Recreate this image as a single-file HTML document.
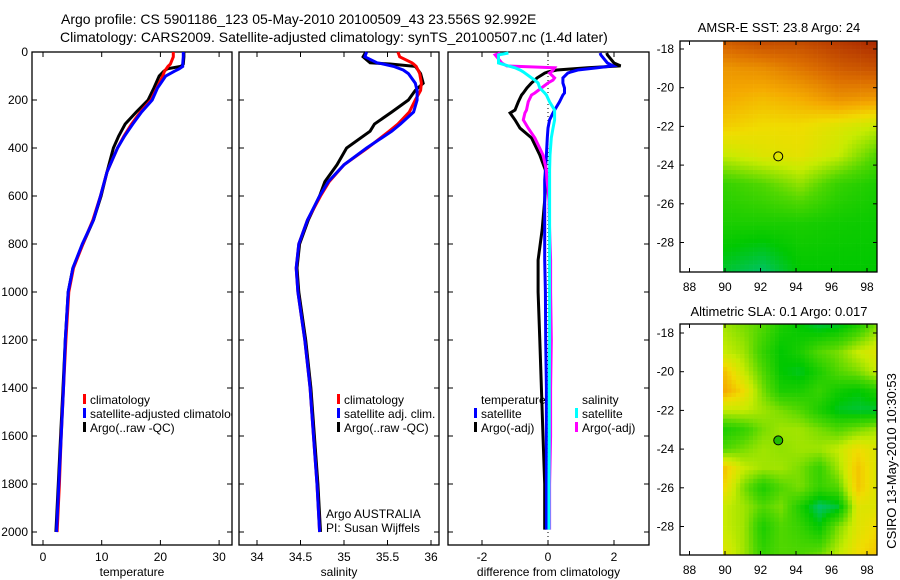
<!DOCTYPE html>
<html><head><meta charset="utf-8"><style>
html,body{margin:0;padding:0;background:#fff;width:900px;height:580px;overflow:hidden}
svg{display:block;font-family:"Liberation Sans",sans-serif}
text{fill:#000}
</style></head><body>
<svg id="s" width="900" height="580" viewBox="0 0 900 580" xmlns="http://www.w3.org/2000/svg">
<text x="61" y="24" font-size="14">Argo profile: CS 5901186_123 05-May-2010 20100509_43 23.556S 92.992E</text>
<text x="60" y="42" font-size="14">Climatology: CARS2009. Satellite-adjusted climatology: synTS_20100507.nc (1.4d later)</text>
<text x="779" y="32" font-size="13" text-anchor="middle">AMSR-E SST: 23.8 Argo: 24</text>
<text x="779" y="316" font-size="13" text-anchor="middle">Altimetric SLA: 0.1 Argo: 0.017</text>
<text transform="translate(896,461) rotate(-90)" font-size="13" text-anchor="middle">CSIRO 13-May-2010 10:30:53</text>
</svg>
<script>
// ---------- data ----------
const depthTicks=[0,200,400,600,800,1000,1200,1400,1600,1800,2000];
const tempTicks=[0,10,20,30];
const salTicks=[34,34.5,35,35.5,36];
const diffTicks=[-2,0,2];
const depthT=[0,20,50,60,70,80,100,150,200,250,300,350,400,500,600,700,800,900,1000,1200,1400,1600,1800,2000];
const tempClim=[22.2,22.2,21.7,21.3,21.0,20.7,20.4,19.4,18.4,16.6,15.1,13.8,12.7,10.9,9.8,8.5,6.8,5.2,4.4,3.9,3.5,3.1,2.8,2.4];
const tempSat=[23.9,23.9,23.8,23.8,23.2,22.4,20.9,19.5,18.6,16.8,15.3,13.9,12.7,10.9,9.8,8.6,6.7,5.1,4.3,3.8,3.5,3.1,2.7,2.3];
const tempArgo=[24,24,23.9,23.5,21.2,20.6,19.8,18.9,17.9,15.9,14.0,12.9,12.0,10.9,9.9,8.6,6.8,5.1,4.3,3.8,3.4,3.0,2.6,2.2];
const depthS=[0,20,45,50,60,75,90,130,160,200,250,300,330,400,470,540,600,700,800,900,1000,1200,1400,1600,1800,2000];
const salClim=[35.62,35.64,35.78,35.8,35.83,35.85,35.87,35.89,35.88,35.82,35.75,35.62,35.52,35.27,35.0,34.83,34.73,34.58,34.48,34.45,34.47,34.55,34.61,34.65,34.69,34.72];
const salSat=[35.26,35.24,35.38,35.45,35.57,35.68,35.74,35.82,35.84,35.84,35.8,35.65,35.55,35.26,35.0,34.82,34.72,34.58,34.48,34.45,34.47,34.55,34.61,34.65,34.69,34.72];
const salArgo=[35.25,35.22,35.3,35.53,35.82,35.85,35.88,35.91,35.82,35.74,35.55,35.35,35.3,35.03,34.92,34.78,34.72,34.59,34.49,34.46,34.48,34.56,34.62,34.66,34.7,34.73];
const depthD=[4,12,46,58,66,75,83,88,108,117,129,150,171,179,208,242,254,283,317,358,429,492,533,617,742,867,1000,1200,1400,1600,1800,1990];
const dTempSat=[1.58,1.6,1.8,1.97,1.5,0.9,0.7,0.6,0.45,0.45,0.45,0.5,0.5,0.45,0.35,0.2,0.15,0.05,0,-0.02,-0.05,-0.08,-0.1,-0.1,-0.1,-0.1,-0.08,-0.07,-0.05,-0.05,-0.05,-0.05];
const dTempArgo=[1.78,1.8,2.0,2.2,1.2,0.27,0,-0.1,-0.33,-0.4,-0.5,-0.64,-0.75,-0.8,-0.9,-1.0,-1.15,-1.0,-0.85,-0.5,-0.25,-0.08,-0.06,-0.1,-0.18,-0.3,-0.3,-0.25,-0.2,-0.15,-0.1,-0.1];
const dSalSat=[-1.2,-1.5,-1.5,-1.2,-1.0,-0.85,-0.75,-0.7,-0.5,-0.4,-0.3,-0.25,-0.1,-0.05,0.05,0.2,0.2,0.2,0.15,0.1,0.06,0.05,0.05,0.05,0.05,0.05,0.05,0.05,0.04,0.04,0.03,0.03];
const dSalArgo=[-1.45,-1.6,-1.4,-1.25,0.2,0.15,0.1,0.05,0.2,0.15,0.0,-0.2,-0.4,-0.5,-0.6,-0.65,-0.7,-0.75,-0.6,-0.4,-0.15,-0.05,-0.03,0.03,0.05,0.08,0.08,0.1,0.08,0.08,0.05,0.05];
const lonTicks=[88,90,92,94,96,98];
const latTicks=[-18,-20,-22,-24,-26,-28];
// coarse map grids (rows north->south, cols 90..98.5), colour index 0..1
const sstLats=[-17.6,-19,-20.5,-22,-23.5,-25,-27,-29.6];
const sstGrid=[[0.85,0.9,0.9,0.95,1],[0.7,0.72,0.78,0.85,0.88],[0.65,0.62,0.65,0.72,0.7],[0.58,0.55,0.55,0.5,0.45],[0.45,0.5,0.52,0.45,0.3],[0.25,0.3,0.38,0.25,0.2],[0.2,0.2,0.2,0.18,0.17],[0.1,0.05,0.15,0.15,0.15]];
const slaLats=[-17.6,-19,-20,-21,-22,-23,-24,-25,-26,-27,-28,-29.6];
const slaGrid=[[0.4,0.35,0.3,0.2,0.15,0.1,0.12,0.2,0.35],[0.45,0.4,0.25,0.15,0.2,0.3,0.35,0.45,0.5],[0.6,0.45,0.3,0.15,0.12,0.2,0.3,0.35,0.45],[0.65,0.55,0.35,0.2,0.2,0.25,0.18,0.15,0.2],[0.45,0.45,0.4,0.35,0.3,0.2,0.12,0.1,0.1],[0.2,0.25,0.35,0.4,0.4,0.35,0.3,0.35,0.4],[0.3,0.35,0.4,0.38,0.4,0.4,0.45,0.55,0.5],[0.6,0.45,0.4,0.4,0.35,0.25,0.4,0.6,0.5],[0.55,0.35,0.2,0.3,0.35,0.25,0.3,0.6,0.5],[0.45,0.4,0.3,0.35,0.2,0.05,0.1,0.5,0.5],[0.45,0.4,0.2,0.3,0.25,0.15,0.35,0.5,0.55],[0.5,0.4,0.25,0.3,0.3,0.35,0.45,0.55,0.6]];
const argoPos=[93,-23.55];

// ---------- helpers ----------
const S=document.getElementById('s'),NS='http://www.w3.org/2000/svg';
function mk(t,a,p){const e=document.createElementNS(NS,t);for(const k in a)e.setAttribute(k,a[k]);(p||S).appendChild(e);return e;}
const Y0=52,YS=0.24,PB=545,PT=52;
const yD=d=>Y0+d*YS;
function panel(name,x0,x1,xf,ticks,label,labels,yLabels){
  const g=mk('g',{});
  
  
  const r=mk('rect',{x:x0,y:PT,width:x1-x0,height:PB-PT,fill:'none',stroke:'#000','stroke-width':1.3},g);
  
  
  ticks.forEach((v,i)=>{const x=xf(v);
    mk('line',{x1:x,x2:x,y1:PB,y2:PB-5,stroke:'#000'},g);
    mk('line',{x1:x,x2:x,y1:PT,y2:PT+5,stroke:'#000'},g);
    const t=mk('text',{x:x,y:PB+16,'font-size':12,'text-anchor':'middle'},g);t.textContent=labels[i];
    
    });
  depthTicks.forEach(d=>{const y=yD(d);
    mk('line',{x1:x0,x2:x0+5,y1:y,y2:y,stroke:'#000'},g);
    mk('line',{x1:x1,x2:x1-5,y1:y,y2:y,stroke:'#000'},g);
    if(yLabels){const t=mk('text',{x:28,y:y+4,'font-size':12,'text-anchor':'end'},g);t.textContent=d;
      
      }});
  const t=mk('text',{x:(x0+x1)/2,y:PB+31,'font-size':12,'text-anchor':'middle'},g);t.textContent=label;
  
  
  return g;}
function line(g,depths,vals,xf,col,name){
  const pts=depths.map((d,i)=>xf(vals[i]).toFixed(1)+','+yD(d).toFixed(1)).join(' ');
  const p=mk('polyline',{points:pts,fill:'none',stroke:col,'stroke-width':3,'stroke-linejoin':'miter'},g);
  
  }
function legend(g,x,y,col,txt,name,clip){
  if(col){mk('rect',{x:x,y:y-10,width:3,height:10,fill:col},g);}
  const t=mk('text',{x:x+7,y:y,'font-size':12},g);t.textContent=txt;
  if(clip)t.setAttribute('clip-path','url(#cp1)');
  
  }
const defs=mk('defs',{});const cp=mk('clipPath',{id:'cp1'},defs);mk('rect',{x:0,y:0,width:232,height:580},cp);

// ---------- temperature ----------
const xT=v=>43+v*5.87;
const gT=panel('temperature-panel',32,232,xT,tempTicks,'temperature',['0','10','20','30'],true);
line(gT,depthT,tempArgo,xT,'#000','argo-temperature-line');
line(gT,depthT,tempClim,xT,'#f00','climatology-temperature-line');
line(gT,depthT,tempSat,xT,'#00f','satellite-temperature-line');
legend(gT,83,404,'#f00','climatology','legend-climatology');
legend(gT,83,418,'#00f','satellite-adjusted climatology','legend-satellite',true);
legend(gT,83,432,'#000','Argo(..raw -QC)','legend-argo');

// ---------- salinity ----------
const xS=v=>257+(v-34)*87;
const gS=panel('salinity-panel',239,439,xS,salTicks,'salinity',['34','34.5','35','35.5','36'],false);
line(gS,depthS,salArgo,xS,'#000','argo-salinity-line');
line(gS,depthS,salClim,xS,'#f00','climatology-salinity-line');
line(gS,depthS,salSat,xS,'#00f','satellite-salinity-line');
legend(gS,337,404,'#f00','climatology','legend-climatology');
legend(gS,337,418,'#00f','satellite adj. clim.','legend-satellite');
legend(gS,337,432,'#000','Argo(..raw -QC)','legend-argo');
legend(gS,319,518,null,'Argo AUSTRALIA','credit-argo-australia');
legend(gS,319,532,null,'PI: Susan Wijffels','credit-pi');

// ---------- difference ----------
const xDf=v=>548+v*33;
const gD=panel('difference-panel',448,649,xDf,diffTicks,'difference from climatology',['-2','0','2'],false);
mk('line',{x1:548,x2:548,y1:PT,y2:PB,stroke:'#000','stroke-dasharray':'1,3'},gD);
line(gD,depthD,dTempArgo,xDf,'#000','argo-temperature-difference');
line(gD,depthD,dTempSat,xDf,'#00f','satellite-temperature-difference');
line(gD,depthD,dSalArgo,xDf,'#f0f','argo-salinity-difference');
line(gD,depthD,dSalSat,xDf,'#0ff','satellite-salinity-difference');
legend(gD,474,404,null,'temperature','legend-temperature-header');
legend(gD,474,418,'#00f','satellite','legend-temp-satellite');
legend(gD,474,432,'#000','Argo(-adj)','legend-temp-argo');
legend(gD,575,404,null,'salinity','legend-salinity-header');
legend(gD,575,418,'#0ff','satellite','legend-sal-satellite');
legend(gD,575,432,'#f0f','Argo(-adj)','legend-sal-argo');

// ---------- maps ----------
const stops=[[0,[0,190,160]],[0.15,[0,200,0]],[0.3,[80,215,0]],[0.45,[200,235,0]],[0.55,[240,220,0]],[0.65,[245,170,0]],[0.8,[220,110,0]],[1,[170,40,0]]];
function cmap(t){t=Math.max(0,Math.min(1,t));for(let i=1;i<stops.length;i++){if(t<=stops[i][0]){const a=stops[i-1],b=stops[i],f=(t-a[0])/(b[0]-a[0]);return 'rgb('+a[1].map((c,k)=>Math.round(c+(b[1][k]-c)*f)).join(',')+')';}}return 'rgb(170,40,0)';}
function sample(lats,grid,lon,lat){
  const nc=grid[0].length;let cf=(lon-90)/8.5*(nc-1);cf=Math.max(0,Math.min(nc-1.0001,cf));
  let r=0;while(r<lats.length-2&&lat<lats[r+1])r++;
  let rf=(lats[r]-lat)/(lats[r]-lats[r+1]);rf=Math.max(0,Math.min(1,rf));
  const c=Math.floor(cf),fc=cf-c;
  const v0=grid[r][c]*(1-fc)+grid[r][c+1]*fc,v1=grid[r+1][c]*(1-fc)+grid[r+1][c+1]*fc;
  return v0*(1-rf)+v1*rf;}
function map(name,top,lat18,lats,grid,labY,filled){
  const g=mk('g',{});
  
  
  const bot=top+231;
  const xL=lon=>725+(lon-90)*17.75, yL=lat=>lat18+(-18-lat)*19.35;
  const cs=4.3;
  for(let y=top;y<bot;y+=cs){for(let x=723;x<877;x+=cs){
    const lon=90+(x+cs/2-725)/17.75,lat=-18-(y+cs/2-lat18)/19.35;
    mk('rect',{x:x.toFixed(1),y:y.toFixed(1),width:(Math.min(cs,877-x)+0.3).toFixed(1),height:(Math.min(cs,bot-y)+0.3).toFixed(1),fill:cmap(sample(lats,grid,lon,lat))},g);}}
  const fr=mk('rect',{x:680,y:top,width:197,height:231,fill:'none',stroke:'#000','stroke-width':1.3},g);
  
  
  lonTicks.forEach(l=>{const x=xL(l);mk('line',{x1:x,x2:x,y1:bot,y2:bot-4,stroke:'#000'},g);mk('line',{x1:x,x2:x,y1:top,y2:top+4,stroke:'#000'},g);
    const t=mk('text',{x:x,y:labY,'font-size':12,'text-anchor':'middle'},g);t.textContent=l;
    
    });
  latTicks.forEach(l=>{const y=yL(l);mk('line',{x1:680,x2:684,y1:y,y2:y,stroke:'#000'},g);mk('line',{x1:877,x2:873,y1:y,y2:y,stroke:'#000'},g);
    const t=mk('text',{x:674,y:y+4,'font-size':12,'text-anchor':'end'},g);t.textContent=l;
    
    });
  const c=mk('circle',{cx:xL(argoPos[0]),cy:yL(argoPos[1]),r:4.5,fill:filled?'#22bb00':'none',stroke:'#000','stroke-width':1},g);
  
  }
map('sst-map',41,49,sstLats,sstGrid,291,false);
map('sla-map',324,333,slaLats,slaGrid,574,true);
</script>
</body></html>
